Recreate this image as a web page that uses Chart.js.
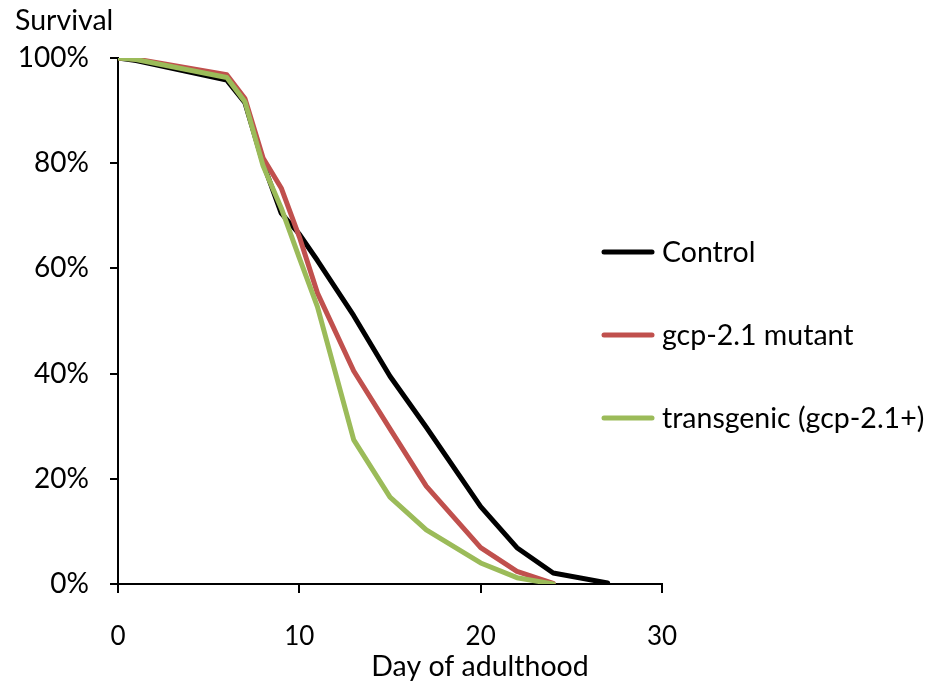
<!DOCTYPE html>
<html>
<head>
<meta charset="utf-8">
<script src="https://cdn.jsdelivr.net/npm/chart.js@4/dist/chart.umd.min.js"></script>
<style>
  html, body { margin: 0; padding: 0; background: #fff; }
  #wrap { width: 942px; height: 688px; position: relative; }
</style>
</head>
<body>
<div id="wrap"><canvas id="survival"></canvas></div>
<script>
const controlDays = [0, 1, 6, 7, 8, 9, 10, 11, 13, 15, 17, 20, 22, 24, 27];
const controlSurv = [1.0, 0.995, 0.958, 0.915, 0.80, 0.705, 0.665, 0.615, 0.51, 0.395, 0.298, 0.147, 0.069, 0.021, 0.002];

const mutantDays = [0, 1, 6, 7, 8, 9, 10, 11, 13, 15, 17, 20, 22, 24];
const mutantSurv = [1.0, 0.998, 0.968, 0.923, 0.81, 0.753, 0.66, 0.553, 0.405, 0.295, 0.186, 0.069, 0.024, 0.001];

const transDays = [0, 1, 6, 7, 8, 9, 10, 11, 13, 15, 17, 20, 22, 24];
const transSurv = [1.0, 0.997, 0.963, 0.917, 0.795, 0.715, 0.62, 0.527, 0.274, 0.165, 0.103, 0.04, 0.012, 0.0];

const seriesNames = ['Control', 'gcp-2.1 mutant', 'transgenic (gcp-2.1+)'];
const seriesColors = ['#000000', '#C0504D', '#9BBB59'];

const xTicks = [0, 10, 20, 30];
const yTicks = [0, 0.2, 0.4, 0.6, 0.8, 1.0];

const FONT = 'Lato, "Open Sans", sans-serif';

function toPoints(days, vals) {
    return days.map((d, i) => ({ x: d, y: vals[i] }));
}

// legend and the two free-standing captions
const extras = {
    id: 'extras',
    afterDraw(chart) {
        const ctx = chart.ctx;
        ctx.save();
        ctx.font = '28.5px ' + FONT;
        ctx.fillStyle = '#000';
        ctx.textBaseline = 'middle';
        const rows = [252, 335, 418];
        seriesNames.forEach((name, i) => {
            ctx.strokeStyle = seriesColors[i];
            ctx.lineWidth = 5;
            ctx.lineCap = 'round';
            ctx.beginPath();
            ctx.moveTo(604, rows[i]);
            ctx.lineTo(652, rows[i]);
            ctx.stroke();
            ctx.fillText(name, 662, rows[i] + 1);
        });
        ctx.font = '28.5px ' + FONT;
        ctx.textAlign = 'left';
        ctx.fillText('Survival', 15, 21);
        ctx.textAlign = 'center';
        ctx.fillText('Day of adulthood', 480, 667);
        ctx.restore();
    }
};

new Chart(document.getElementById('survival'), {
    type: 'line',
    data: {
        datasets: [
            { label: seriesNames[0], data: toPoints(controlDays, controlSurv), borderColor: seriesColors[0], order: 3 },
            { label: seriesNames[1], data: toPoints(mutantDays, mutantSurv), borderColor: seriesColors[1], order: 2 },
            { label: seriesNames[2], data: toPoints(transDays, transSurv), borderColor: seriesColors[2], order: 1 }
        ].map(ds => Object.assign(ds, {
            borderWidth: 5,
            pointRadius: 0,
            tension: 0,
            fill: false,
            borderCapStyle: 'round',
            borderJoinStyle: 'round'
        }))
    },
    options: {
        responsive: true,
        maintainAspectRatio: false,
        animation: false,
        layout: { padding: { top: 58, right: 280, left: 0, bottom: 0 } },
        plugins: {
            legend: { display: false },
            tooltip: { enabled: false }
        },
        scales: {
            x: {
                type: 'linear',
                min: 0,
                max: 30,
                afterBuildTicks: scale => { scale.ticks = xTicks.map(v => ({ value: v })); },
                afterFit: scale => { scale.height = 104; },
                border: { display: true, color: '#000', width: 2 },
                grid: { drawOnChartArea: false, drawTicks: true, tickLength: 9, color: '#000', lineWidth: 2 },
                ticks: { color: '#000', font: { family: FONT, size: 26 }, padding: 28, maxRotation: 0 }
            },
            y: {
                type: 'linear',
                min: 0,
                max: 1,
                afterBuildTicks: scale => { scale.ticks = yTicks.map(v => ({ value: v })); },
                afterFit: scale => { scale.width = 118; },
                border: { display: true, color: '#000', width: 2 },
                grid: { drawOnChartArea: false, drawTicks: true, tickLength: 8, color: '#000', lineWidth: 2 },
                ticks: {
                    color: '#000',
                    font: { family: FONT, size: 28 },
                    padding: 21,
                    callback: v => Math.round(v * 100) + '%'
                }
            }
        }
    },
    plugins: [extras]
});
</script>
</body>
</html>
